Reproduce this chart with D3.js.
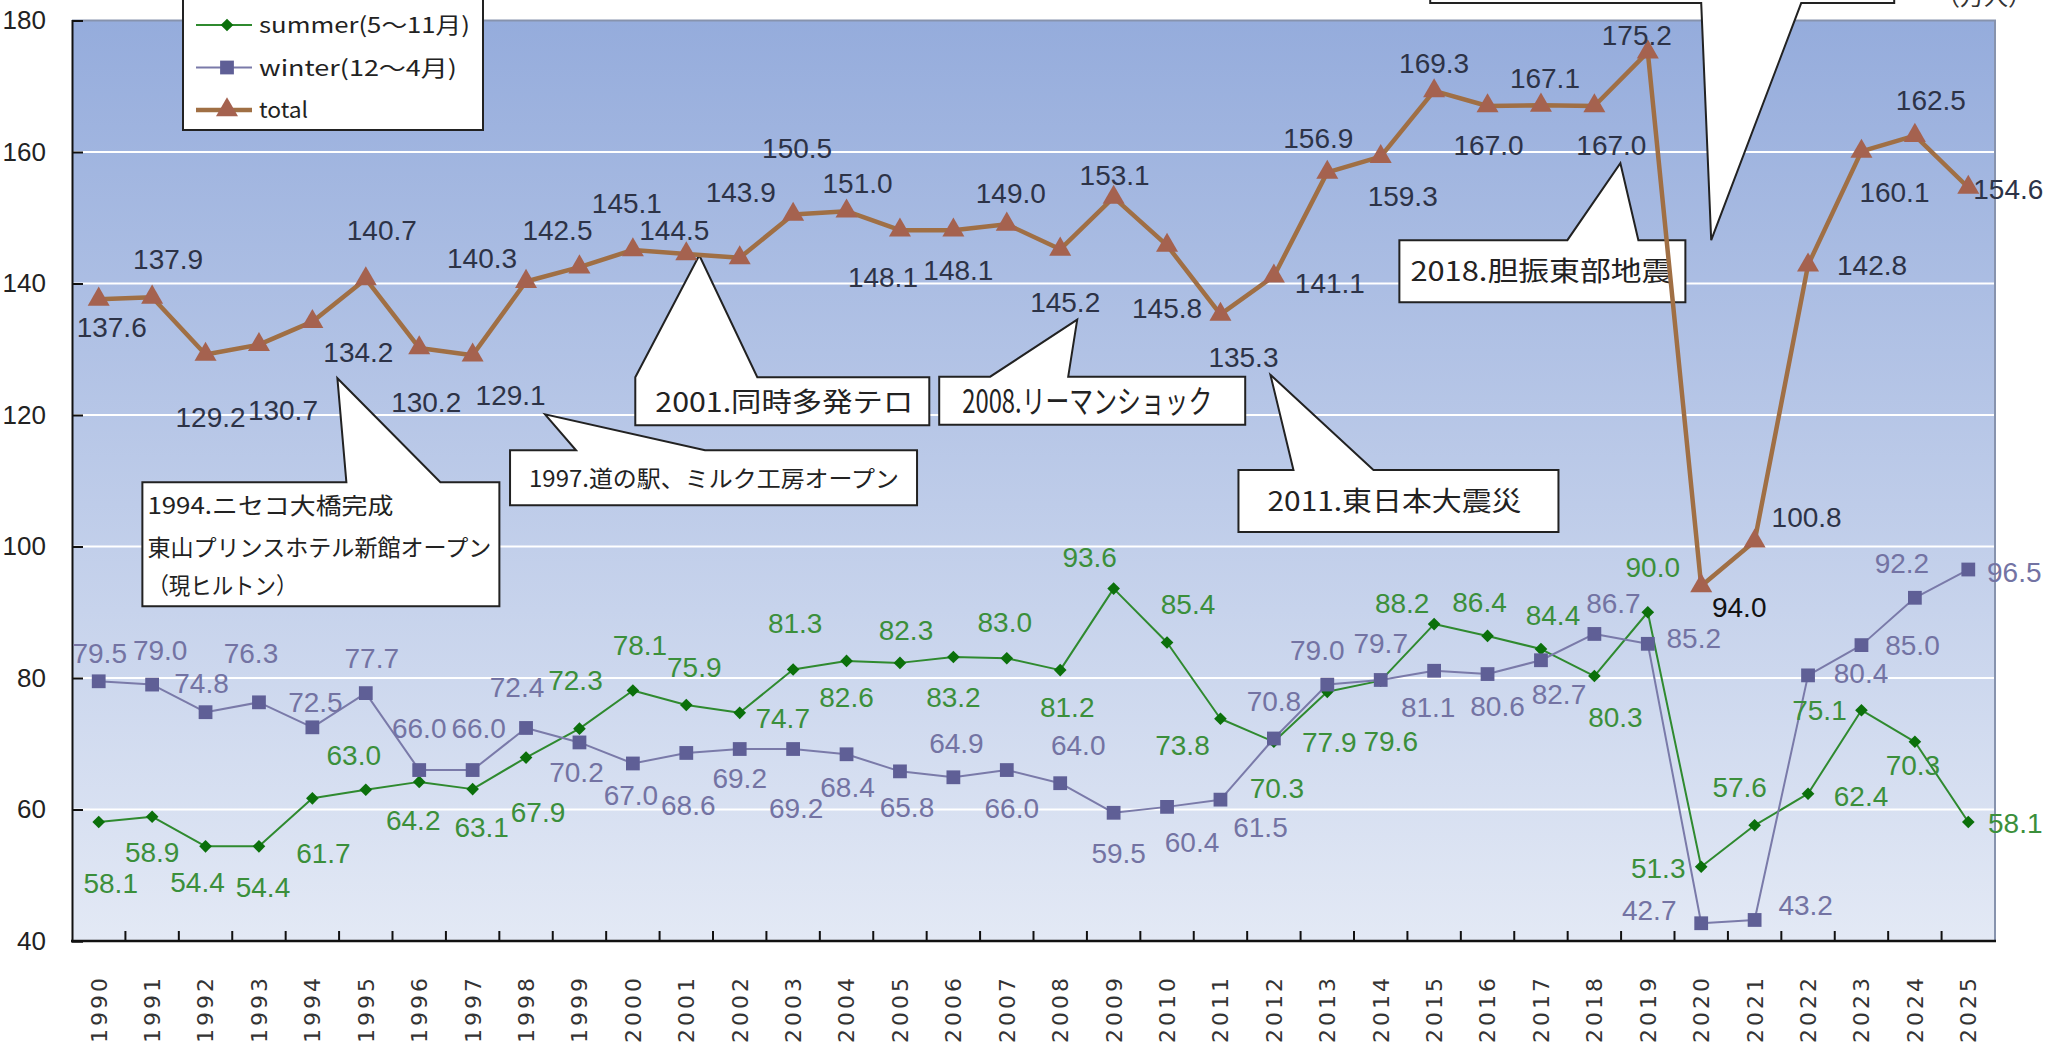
<!DOCTYPE html>
<html>
<head>
<meta charset="utf-8">
<script src="https://d3js.org/d3.v7.min.js"></script>
<style>
  body { margin: 0; background: #fff; }
  svg { display: block; }
  text { font-family: "Liberation Sans", Arial, sans-serif; }
  .jp { font-family: "Noto Sans CJK JP", sans-serif; }
</style>
</head>
<body>
<svg id="chart"></svg>
<script>

// data (万人)
var years = [1990,1991,1992,1993,1994,1995,1996,1997,1998,1999,
             2000,2001,2002,2003,2004,2005,2006,2007,2008,2009,
             2010,2011,2012,2013,2014,2015,2016,2017,2018,2019,
             2020,2021,2022,2023,2024,2025];

var summer = [58.1,58.9,54.4,54.4,61.7,63.0,64.2,63.1,67.9,72.3,
              78.1,75.9,74.7,81.3,82.6,82.3,83.2,83.0,81.2,93.6,
              85.4,73.8,70.3,77.9,79.6,88.2,86.4,84.4,80.3,90.0,
              51.3,57.6,62.4,75.1,70.3,58.1];

var winter = [79.5,79.0,74.8,76.3,72.5,77.7,66.0,66.0,72.4,70.2,
              67.0,68.6,69.2,69.2,68.4,65.8,64.9,66.0,64.0,59.5,
              60.4,61.5,70.8,79.0,79.7,81.1,80.6,82.7,86.7,85.2,
              42.7,43.2,80.4,85.0,92.2,96.5];

var total = [137.6,137.9,129.2,130.7,134.2,140.7,130.2,129.1,140.3,142.5,
             145.1,144.5,143.9,150.5,151.0,148.1,148.1,149.0,145.2,153.1,
             145.8,135.3,141.1,156.9,159.3,169.3,167.0,167.1,167.0,175.2,
             94.0,100.8,142.8,160.1,162.5,154.6];

var yTicks = [40,60,80,100,120,140,160,180];

var seriesNames = ["summer(5～11月)", "winter(12～4月)", "total"];

// label nudges [dx, dy] from the point (hand placed in the original)
var totalNudge = [[13,38],[16,-28],[5,72],[24,75],[46,40],[16,-39],[7,64],[38,50],[-44,-14],[-22,-27],
                  [-6,-37],[-12,-14],[1,-56],[4,-56],[11,-18],[-17,57],[5,50],[4,-21],[5,63],[1,-12],
                  [0,73],[23,53],[56,17],[-9,-24],[22,49],[0,-18],[1,49],[4,-17],[17,49],[-11,-7],
                  [38,31],[52,-14],[64,10],[33,51],[16,-26],[40,11]];
var summerNudge = [[12,71],[0,45],[-8,46],[4,51],[11,65],[-12,-25],[-6,48],[9,48],[12,64],[-4,-39],
                   [7,-35],[8,-28],[43,15],[2,-36],[0,46],[6,-23],[0,50],[-2,-26],[7,47],[-24,-22],
                   [21,-28],[-38,36],[3,56],[2,60],[10,70],[-32,-11],[-8,-24],[12,-24],[21,51],[5,-35],
                   [-43,11],[-15,-28],[53,12],[-42,10],[-2,33],[47,11]];
var winterNudge = [[1,-18],[8,-25],[-4,-19],[-8,-39],[3,-15],[6,-25],[0,-32],[6,-32],[-9,-31],[-3,40],
                   [-2,42],[2,62],[0,39],[3,69],[1,43],[7,46],[3,-24],[5,48],[18,-28],[5,50],
                   [25,45],[40,37],[0,-27],[-10,-25],[0,-27],[-6,46],[10,42],[18,44],[19,-21],[46,4],
                   [-52,-3],[51,-5],[53,8],[51,10],[-13,-25],[46,12]];

// callouts: tip in data space (+dx px), box relative to tip, base of pointer relative to tip x
var notes = [
  {lines:["1994.ニセコ大橋完成","東山プリンスホテル新館オープン","（現ヒルトン）"], lens:[246,344,150],
   year:1994, value:125.6, dx:25, box:[-195,104,357,124], base:[9,103], tx:5, ty:[32,74,112], fs:23},
  {lines:["1997.道の駅、ミルク工房オープン"], lens:[370],
   year:1998, value:120.1, dx:19, box:[-35,36,407,55], base:[31,160], tx:19, ty:[37], fs:23},
  {lines:["2001.同時多発テロ"], lens:[258],
   year:2001, value:144.3, dx:13, box:[-64,122,294,48], base:[-64,58], tx:20, ty:[35], fs:27},
  {lines:["2008.リーマンショック"], lens:[250],
   year:2008, value:134.5, dx:17, box:[-138,57,306,48], base:[-87,-9], tx:23, ty:[36], fs:32},
  {lines:["2011.東日本大震災"], lens:[254],
   year:2011, value:126.1, dx:50, box:[-32,95,320,62], base:[23,103], tx:29, ty:[41], fs:27},
  {lines:["2018.胆振東部地震"], lens:[262],
   year:2018, value:158.3, dx:26, box:[-221,77,286,62], base:[-53,18], tx:11, ty:[41], fs:27},
  {lines:[], lens:[],
   year:2020, value:146.6, dx:10, box:[-281,-300,464,63], base:[-10,90], tx:0, ty:[], fs:27}
];

var width = 2049, height = 1052;
var plotLeft = 72, plotRight = 1995, plotTop = 20.5, plotBottom = 941;

var svg = d3.select("#chart").attr("width", width).attr("height", height);

var x = d3.scaleBand().domain(years).range([plotLeft, plotRight]);
var cx = function(yr) { return x(yr) + x.bandwidth() / 2; };
var y = d3.scaleLinear().domain([40, 180]).range([plotBottom, plotTop]);

// background gradient
var grad = svg.append("defs").append("linearGradient")
    .attr("id", "bg").attr("x1", 0).attr("y1", 0).attr("x2", 0).attr("y2", 1);
grad.append("stop").attr("offset", "0%").attr("stop-color", "#95acdc");
grad.append("stop").attr("offset", "100%").attr("stop-color", "#e3e9f5");

svg.append("rect")
    .attr("x", plotLeft).attr("y", plotTop)
    .attr("width", plotRight - plotLeft).attr("height", plotBottom - plotTop)
    .attr("fill", "url(#bg)");

// gridlines
svg.append("g").selectAll("line")
    .data(yTicks.slice(1, -1))
    .join("line")
    .attr("x1", plotLeft).attr("x2", plotRight)
    .attr("y1", function(d) { return y(d); })
    .attr("y2", function(d) { return y(d); })
    .attr("stroke", "#ffffff").attr("stroke-width", 2);

// frame top / right
svg.append("path")
    .attr("d", "M" + plotLeft + "," + plotTop + "H" + plotRight + "V" + plotBottom)
    .attr("fill", "none").attr("stroke", "#8793ad").attr("stroke-width", 2);

// y axis
var yAxis = svg.append("g")
    .attr("transform", "translate(" + plotLeft + ",0)")
    .call(d3.axisLeft(y).tickValues(yTicks).tickSize(-11).tickPadding(26));
yAxis.select(".domain").attr("stroke", "#111").attr("stroke-width", 2);
yAxis.selectAll(".tick line").attr("stroke", "#111").attr("stroke-width", 2);
yAxis.selectAll(".tick text")
    .attr("font-size", 26).attr("fill", "#222")
    .style("font-family", "'Liberation Sans', Arial, sans-serif");

// x axis labels
var xAxis = svg.append("g")
    .attr("transform", "translate(0," + plotBottom + ")")
    .call(d3.axisBottom(x).tickSize(0));
xAxis.select(".domain").remove();
xAxis.selectAll(".tick text")
    .attr("transform", "rotate(-90)")
    .attr("x", -34).attr("y", 0).attr("dy", "0.36em")
    .attr("text-anchor", "end")
    .attr("font-size", 22).attr("letter-spacing", 3)
    .attr("fill", "#333")
    .style("font-family", "'DejaVu Sans', sans-serif");

// bottom axis line and ticks between categories
svg.append("line")
    .attr("x1", plotLeft - 1).attr("x2", plotRight + 1)
    .attr("y1", plotBottom).attr("y2", plotBottom)
    .attr("stroke", "#111").attr("stroke-width", 2.5);
svg.append("g").selectAll("line")
    .data(years.slice(1))
    .join("line")
    .attr("x1", function(d) { return x(d); })
    .attr("x2", function(d) { return x(d); })
    .attr("y1", plotBottom).attr("y2", plotBottom - 10)
    .attr("stroke", "#111").attr("stroke-width", 2);

// callouts
var noteG = svg.append("g");
notes.forEach(function(n) {
    var tx = cx(n.year) + n.dx, ty = y(n.value);
    var bx0 = tx + n.box[0], by0 = ty + n.box[1];
    var bx1 = bx0 + n.box[2], by1 = by0 + n.box[3];
    var p;
    if (n.box[1] > 0) {
        // pointer on top edge
        p = "M" + bx0 + "," + by0 + "L" + (tx + n.base[0]) + "," + by0 + "L" + tx + "," + ty +
            "L" + (tx + n.base[1]) + "," + by0 + "L" + bx1 + "," + by0 + "L" + bx1 + "," + by1 +
            "L" + bx0 + "," + by1 + "Z";
    } else {
        // pointer on bottom edge
        p = "M" + bx0 + "," + by0 + "L" + bx1 + "," + by0 + "L" + bx1 + "," + by1 +
            "L" + (tx + n.base[1]) + "," + by1 + "L" + tx + "," + ty +
            "L" + (tx + n.base[0]) + "," + by1 + "L" + bx0 + "," + by1 + "Z";
    }
    noteG.append("path").attr("d", p)
        .attr("fill", "#fff").attr("stroke", "#222").attr("stroke-width", 2)
        .attr("stroke-linejoin", "miter");
    n.lines.forEach(function(t, i) {
        noteG.append("text").attr("class", "jp")
            .attr("x", bx0 + n.tx).attr("y", by0 + n.ty[i])
            .attr("font-size", n.fs).attr("fill", "#222")
            .attr("textLength", n.lens[i]).attr("lengthAdjust", "spacingAndGlyphs")
            .text(t);
    });
});

// unit label, mostly cut off at the top
svg.append("text").attr("class", "jp")
    .attr("x", 1936).attr("y", 5)
    .attr("font-size", 24).attr("fill", "#333")
    .text("（万人）");

// series
var series = [
    {name: seriesNames[0], values: summer, nudge: summerNudge, line: "#2f8a2f", lw: 2,
     mark: "#0b700b", label: "#3b8f3b", sym: d3.symbolSquare, size: 80, rot: 45},
    {name: seriesNames[1], values: winter, nudge: winterNudge, line: "#7a7aa9", lw: 2,
     mark: "#5f5f96", label: "#7373a3", sym: d3.symbolSquare, size: 190, rot: 0},
    {name: seriesNames[2], values: total, nudge: totalNudge, line: "#a06f44", lw: 4.5,
     mark: "#a5624f", label: "#2d3347", sym: d3.symbolTriangle, size: 210, rot: 0}
];

var line = d3.line()
    .x(function(d, i) { return cx(years[i]); })
    .y(function(d) { return y(d); });

series.forEach(function(s) {
    svg.append("path")
        .datum(s.values)
        .attr("d", line)
        .attr("fill", "none")
        .attr("stroke", s.line)
        .attr("stroke-width", s.lw)
        .attr("stroke-linejoin", "round");
    svg.append("g").selectAll("path")
        .data(s.values)
        .join("path")
        .attr("d", d3.symbol().type(s.sym).size(s.size))
        .attr("transform", function(d, i) {
            return "translate(" + cx(years[i]) + "," + y(d) + ") rotate(" + s.rot + ")";
        })
        .attr("fill", s.mark);
});

series.forEach(function(s) {
    svg.append("g").selectAll("text")
        .data(s.values)
        .join("text")
        .attr("x", function(d, i) { return cx(years[i]) + s.nudge[i][0]; })
        .attr("y", function(d, i) { return y(d) + s.nudge[i][1]; })
        .attr("text-anchor", "middle")
        .attr("font-size", 28)
        .attr("fill", function(d, i) { return (s.name === "total" && years[i] === 2020) ? "#111" : s.label; })
        .text(function(d) { return d.toFixed(1); });
});

// legend
var legend = svg.append("g");
legend.append("rect")
    .attr("x", 183).attr("y", -3).attr("width", 300).attr("height", 133)
    .attr("fill", "#fff").attr("stroke", "#222").attr("stroke-width", 2);
var legLens = [211, 198, 49];
series.forEach(function(s, i) {
    var ly = 25 + i * 42.5;
    legend.append("line")
        .attr("x1", 196).attr("x2", 252).attr("y1", ly).attr("y2", ly)
        .attr("stroke", s.line).attr("stroke-width", s.lw);
    legend.append("path")
        .attr("d", d3.symbol().type(s.sym).size(s.size))
        .attr("transform", "translate(227," + ly + ") rotate(" + s.rot + ")")
        .attr("fill", s.mark);
    legend.append("text").attr("class", "jp")
        .attr("x", 259).attr("y", ly + 8)
        .attr("font-size", 22).attr("fill", "#222")
        .attr("textLength", legLens[i]).attr("lengthAdjust", "spacingAndGlyphs")
        .text(s.name);
});

</script>
</body>
</html>
